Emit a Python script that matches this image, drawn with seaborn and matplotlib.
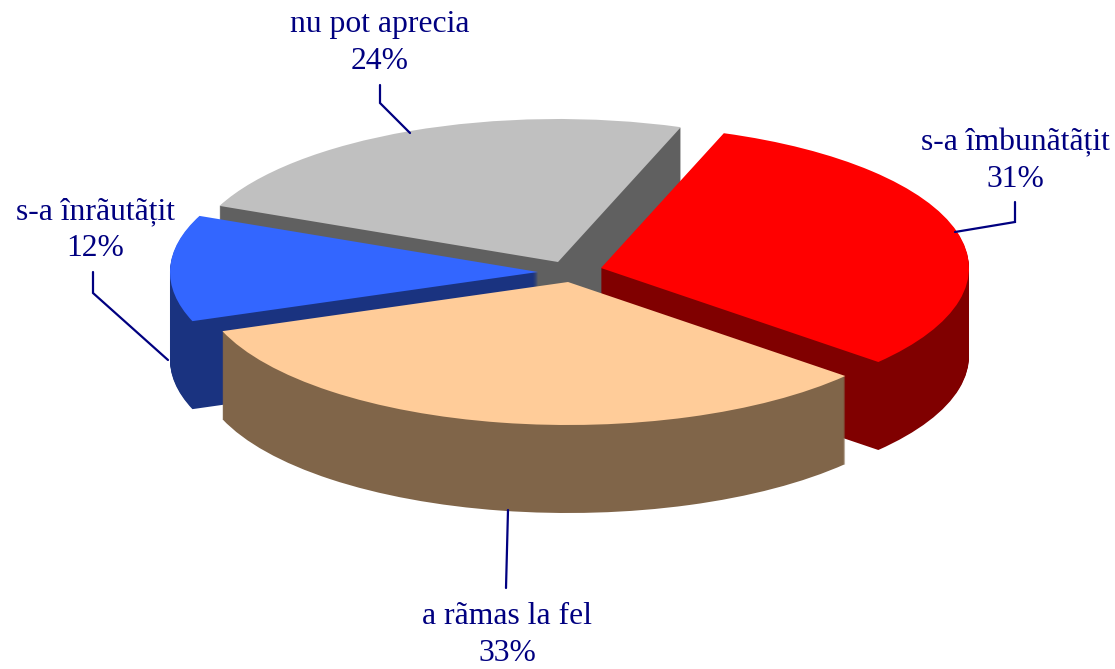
import matplotlib.pyplot as plt
import numpy as np
import seaborn as sns

# chart values, clockwise from the top of the red slice
categories = ['s-a îmbunãtãțit', 'a rãmas la fel', 's-a înrãutãțit', 'nu pot aprecia']
shares = [31, 33, 12, 24]

top_colors = ['#ff0000', '#ffcc99', '#3366ff', '#c0c0c0']
side_colors = ['#800000', '#806549', '#1a3380', '#606060']
paint_order = [3, 2, 0, 1]

W, H = 1115, 669
CX, CY = 567, 270
RX, RY = 368, 143
DEPTH = 88
NAVY = '#000080'

# slice tips, text and leader lines in image pixels
tips = [(601, 268), (568, 282), (538, 272), (558, 262)]
label_pos = [(1015, 161), (507, 635), (95, 230), (380, 43)]
leaders = [
    [(1015, 202), (1015, 222), (955, 232)],
    [(508, 510), (506, 588)],
    [(93, 272), (93, 293), (168, 360)],
    [(380, 85), (380, 103), (410, 133)],
]

sns.set_theme(style='white')
plt.rcParams['font.family'] = ['Liberation Serif', 'DejaVu Serif']


def px(x, y):
    return (x - CX) / RX, (CY - y) / RY


fig = plt.figure(figsize=(W / 100, H / 100), dpi=100)
ax = fig.add_axes([0, 0, 1, 1])

for depth in np.arange(DEPTH, -1, -1):
    colors = top_colors if depth == 0 else side_colors
    wedges, _ = ax.pie(
        shares, colors=colors, startangle=70.5, counterclock=False,
        wedgeprops={'linewidth': 0},
    )
    for rank, i in enumerate(paint_order):
        wedges[i].set_center(px(tips[i][0], tips[i][1] + depth))
        wedges[i].set_zorder(2 * rank + (2 if depth == 0 else 1))

for path in leaders:
    xs, ys = zip(*[px(*p) for p in path])
    ax.plot(xs, ys, color=NAVY, lw=1.6, zorder=20, solid_joinstyle='miter')

for name, share, (x, y) in zip(categories, shares, label_pos):
    ax.text(*px(x, y), f'{name}\n{share}%', color=NAVY, fontsize=22.8,
            ha='center', va='center', linespacing=1.36, zorder=21)

ax.set_aspect('auto')
ax.set_xlim(px(0, 0)[0], px(W, 0)[0])
ax.set_ylim(px(0, H)[1], px(0, 0)[1])
ax.axis('off')
sns.despine(ax=ax, left=True, bottom=True)

fig.savefig('out.png', dpi=100, facecolor='white')
